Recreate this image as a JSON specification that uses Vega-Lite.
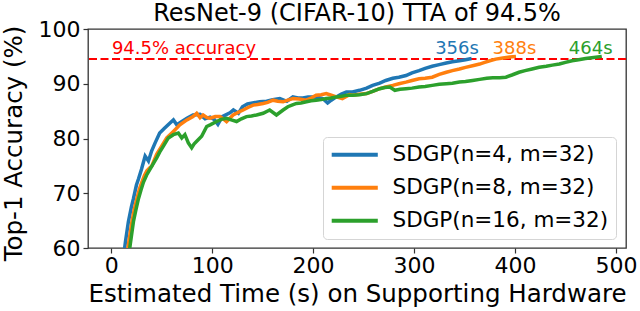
{
  "$schema": "https://vega.github.io/schema/vega-lite/v6.json",
  "width": 538,
  "height": 219,
  "autosize": {"type": "none"},
  "padding": {"left": 88, "top": 29, "right": 14, "bottom": 63},
  "background": "white",
  "config": {
    "font": "DejaVu Sans",
    "view": {"stroke": "#333", "strokeWidth": 1.3},
    "axis": {"grid": false, "domain": false, "tickColor": "#333", "tickSize": 5, "tickWidth": 1.2, "labelFontSize": 22, "labelColor": "black", "titleFontSize": 24.5, "titleFontWeight": "normal", "titleColor": "black", "labelFont": "DejaVu Sans", "titleFont": "DejaVu Sans"}
  },
  "title": {"text": "ResNet-9 (CIFAR-10) TTA of 94.5%", "fontSize": 24, "fontWeight": "normal", "font": "DejaVu Sans", "color": "black", "offset": 8, "dy": 16, "anchor": "middle", "frame": "group"},
  "datasets": {
    "curves": [
      {"series": "SDGP(n=4, m=32)", "t": 12, "acc": 58}, {"series": "SDGP(n=4, m=32)", "t": 14, "acc": 61}, {"series": "SDGP(n=4, m=32)", "t": 17, "acc": 64.8}, {"series": "SDGP(n=4, m=32)", "t": 20, "acc": 67.5}, {"series": "SDGP(n=4, m=32)", "t": 22, "acc": 69}, {"series": "SDGP(n=4, m=32)", "t": 25, "acc": 71.5}, {"series": "SDGP(n=4, m=32)", "t": 27, "acc": 72.6}, {"series": "SDGP(n=4, m=32)", "t": 30, "acc": 74.4}, {"series": "SDGP(n=4, m=32)", "t": 33.6, "acc": 76.8}, {"series": "SDGP(n=4, m=32)", "t": 36.9, "acc": 75.9}, {"series": "SDGP(n=4, m=32)", "t": 40, "acc": 77.7}, {"series": "SDGP(n=4, m=32)", "t": 43.5, "acc": 79.2}, {"series": "SDGP(n=4, m=32)", "t": 48, "acc": 81.0}, {"series": "SDGP(n=4, m=32)", "t": 53, "acc": 81.9}, {"series": "SDGP(n=4, m=32)", "t": 58, "acc": 82.8}, {"series": "SDGP(n=4, m=32)", "t": 61.6, "acc": 83.4}, {"series": "SDGP(n=4, m=32)", "t": 65, "acc": 82.5}, {"series": "SDGP(n=4, m=32)", "t": 70, "acc": 83.1}, {"series": "SDGP(n=4, m=32)", "t": 75, "acc": 83.7}, {"series": "SDGP(n=4, m=32)", "t": 81, "acc": 84.3}, {"series": "SDGP(n=4, m=32)", "t": 88, "acc": 84.4}, {"series": "SDGP(n=4, m=32)", "t": 93, "acc": 83.6}, {"series": "SDGP(n=4, m=32)", "t": 98, "acc": 83.9}, {"series": "SDGP(n=4, m=32)", "t": 102, "acc": 83.5}, {"series": "SDGP(n=4, m=32)", "t": 105.7, "acc": 82.6}, {"series": "SDGP(n=4, m=32)", "t": 110, "acc": 84.0}, {"series": "SDGP(n=4, m=32)", "t": 117.6, "acc": 84.7}, {"series": "SDGP(n=4, m=32)", "t": 121, "acc": 85.2}, {"series": "SDGP(n=4, m=32)", "t": 126, "acc": 84.6}, {"series": "SDGP(n=4, m=32)", "t": 130, "acc": 85.8}, {"series": "SDGP(n=4, m=32)", "t": 135, "acc": 86.3}, {"series": "SDGP(n=4, m=32)", "t": 140, "acc": 86.5}, {"series": "SDGP(n=4, m=32)", "t": 147, "acc": 86.7}, {"series": "SDGP(n=4, m=32)", "t": 154, "acc": 86.8}, {"series": "SDGP(n=4, m=32)", "t": 160, "acc": 87.1}, {"series": "SDGP(n=4, m=32)", "t": 167, "acc": 87.3}, {"series": "SDGP(n=4, m=32)", "t": 174, "acc": 86.8}, {"series": "SDGP(n=4, m=32)", "t": 180, "acc": 87.6}, {"series": "SDGP(n=4, m=32)", "t": 185, "acc": 87.4}, {"series": "SDGP(n=4, m=32)", "t": 190, "acc": 87.4}, {"series": "SDGP(n=4, m=32)", "t": 195, "acc": 87.6}, {"series": "SDGP(n=4, m=32)", "t": 200, "acc": 87.6}, {"series": "SDGP(n=4, m=32)", "t": 205, "acc": 87.5}, {"series": "SDGP(n=4, m=32)", "t": 209.5, "acc": 87.3}, {"series": "SDGP(n=4, m=32)", "t": 214.4, "acc": 86.5}, {"series": "SDGP(n=4, m=32)", "t": 218, "acc": 87.0}, {"series": "SDGP(n=4, m=32)", "t": 223, "acc": 87.6}, {"series": "SDGP(n=4, m=32)", "t": 228, "acc": 88.1}, {"series": "SDGP(n=4, m=32)", "t": 233, "acc": 88.5}, {"series": "SDGP(n=4, m=32)", "t": 239, "acc": 88.5}, {"series": "SDGP(n=4, m=32)", "t": 246, "acc": 88.8}, {"series": "SDGP(n=4, m=32)", "t": 253, "acc": 89.2}, {"series": "SDGP(n=4, m=32)", "t": 259, "acc": 89.7}, {"series": "SDGP(n=4, m=32)", "t": 266, "acc": 90.1}, {"series": "SDGP(n=4, m=32)", "t": 272, "acc": 90.6}, {"series": "SDGP(n=4, m=32)", "t": 279, "acc": 91.0}, {"series": "SDGP(n=4, m=32)", "t": 285, "acc": 91.2}, {"series": "SDGP(n=4, m=32)", "t": 292, "acc": 91.5}, {"series": "SDGP(n=4, m=32)", "t": 298, "acc": 92.0}, {"series": "SDGP(n=4, m=32)", "t": 305, "acc": 92.4}, {"series": "SDGP(n=4, m=32)", "t": 311, "acc": 92.8}, {"series": "SDGP(n=4, m=32)", "t": 318, "acc": 93.2}, {"series": "SDGP(n=4, m=32)", "t": 325, "acc": 93.5}, {"series": "SDGP(n=4, m=32)", "t": 332, "acc": 93.8}, {"series": "SDGP(n=4, m=32)", "t": 338, "acc": 94.0}, {"series": "SDGP(n=4, m=32)", "t": 345, "acc": 94.2}, {"series": "SDGP(n=4, m=32)", "t": 351, "acc": 94.4}, {"series": "SDGP(n=4, m=32)", "t": 357, "acc": 94.6},

      {"series": "SDGP(n=8, m=32)", "t": 15, "acc": 58}, {"series": "SDGP(n=8, m=32)", "t": 17, "acc": 60.6}, {"series": "SDGP(n=8, m=32)", "t": 20.5, "acc": 64.8}, {"series": "SDGP(n=8, m=32)", "t": 23, "acc": 67.2}, {"series": "SDGP(n=8, m=32)", "t": 25.4, "acc": 69}, {"series": "SDGP(n=8, m=32)", "t": 28, "acc": 70.8}, {"series": "SDGP(n=8, m=32)", "t": 30.3, "acc": 72}, {"series": "SDGP(n=8, m=32)", "t": 33, "acc": 73.3}, {"series": "SDGP(n=8, m=32)", "t": 35.3, "acc": 74.1}, {"series": "SDGP(n=8, m=32)", "t": 38, "acc": 74.6}, {"series": "SDGP(n=8, m=32)", "t": 40.2, "acc": 75}, {"series": "SDGP(n=8, m=32)", "t": 45, "acc": 77.1}, {"series": "SDGP(n=8, m=32)", "t": 50, "acc": 78.6}, {"series": "SDGP(n=8, m=32)", "t": 55, "acc": 80.1}, {"series": "SDGP(n=8, m=32)", "t": 61.6, "acc": 81.3}, {"series": "SDGP(n=8, m=32)", "t": 68, "acc": 82.5}, {"series": "SDGP(n=8, m=32)", "t": 75, "acc": 83.4}, {"series": "SDGP(n=8, m=32)", "t": 81, "acc": 84}, {"series": "SDGP(n=8, m=32)", "t": 84.7, "acc": 84.6}, {"series": "SDGP(n=8, m=32)", "t": 88, "acc": 83.8}, {"series": "SDGP(n=8, m=32)", "t": 91, "acc": 84.3}, {"series": "SDGP(n=8, m=32)", "t": 95, "acc": 83.8}, {"series": "SDGP(n=8, m=32)", "t": 98, "acc": 83.7}, {"series": "SDGP(n=8, m=32)", "t": 103, "acc": 84.0}, {"series": "SDGP(n=8, m=32)", "t": 107.7, "acc": 84.0}, {"series": "SDGP(n=8, m=32)", "t": 111, "acc": 83.6}, {"series": "SDGP(n=8, m=32)", "t": 114.3, "acc": 83.1}, {"series": "SDGP(n=8, m=32)", "t": 118, "acc": 83.8}, {"series": "SDGP(n=8, m=32)", "t": 120.8, "acc": 84.3}, {"series": "SDGP(n=8, m=32)", "t": 126, "acc": 84.8}, {"series": "SDGP(n=8, m=32)", "t": 130.7, "acc": 85.2}, {"series": "SDGP(n=8, m=32)", "t": 136, "acc": 85.7}, {"series": "SDGP(n=8, m=32)", "t": 140.6, "acc": 86.1}, {"series": "SDGP(n=8, m=32)", "t": 145, "acc": 86.2}, {"series": "SDGP(n=8, m=32)", "t": 150.5, "acc": 86.4}, {"series": "SDGP(n=8, m=32)", "t": 155, "acc": 86.6}, {"series": "SDGP(n=8, m=32)", "t": 160.4, "acc": 87.0}, {"series": "SDGP(n=8, m=32)", "t": 165, "acc": 86.8}, {"series": "SDGP(n=8, m=32)", "t": 170.3, "acc": 86.7}, {"series": "SDGP(n=8, m=32)", "t": 175, "acc": 87.0}, {"series": "SDGP(n=8, m=32)", "t": 180, "acc": 87.3}, {"series": "SDGP(n=8, m=32)", "t": 186, "acc": 87.2}, {"series": "SDGP(n=8, m=32)", "t": 193, "acc": 87.0}, {"series": "SDGP(n=8, m=32)", "t": 198, "acc": 87.4}, {"series": "SDGP(n=8, m=32)", "t": 203, "acc": 87.9}, {"series": "SDGP(n=8, m=32)", "t": 208, "acc": 88.0}, {"series": "SDGP(n=8, m=32)", "t": 213, "acc": 88.2}, {"series": "SDGP(n=8, m=32)", "t": 218, "acc": 87.9}, {"series": "SDGP(n=8, m=32)", "t": 223, "acc": 87.6}, {"series": "SDGP(n=8, m=32)", "t": 229, "acc": 87.3}, {"series": "SDGP(n=8, m=32)", "t": 236, "acc": 88.0}, {"series": "SDGP(n=8, m=32)", "t": 239, "acc": 87.9}, {"series": "SDGP(n=8, m=32)", "t": 246, "acc": 88.1}, {"series": "SDGP(n=8, m=32)", "t": 253, "acc": 88.2}, {"series": "SDGP(n=8, m=32)", "t": 259, "acc": 88.6}, {"series": "SDGP(n=8, m=32)", "t": 266, "acc": 89.1}, {"series": "SDGP(n=8, m=32)", "t": 272, "acc": 89.4}, {"series": "SDGP(n=8, m=32)", "t": 279, "acc": 89.7}, {"series": "SDGP(n=8, m=32)", "t": 285, "acc": 90.0}, {"series": "SDGP(n=8, m=32)", "t": 292, "acc": 90.3}, {"series": "SDGP(n=8, m=32)", "t": 298, "acc": 90.6}, {"series": "SDGP(n=8, m=32)", "t": 305, "acc": 90.9}, {"series": "SDGP(n=8, m=32)", "t": 311, "acc": 91.0}, {"series": "SDGP(n=8, m=32)", "t": 318, "acc": 91.2}, {"series": "SDGP(n=8, m=32)", "t": 325, "acc": 91.7}, {"series": "SDGP(n=8, m=32)", "t": 332, "acc": 92.1}, {"series": "SDGP(n=8, m=32)", "t": 338, "acc": 92.4}, {"series": "SDGP(n=8, m=32)", "t": 345, "acc": 92.7}, {"series": "SDGP(n=8, m=32)", "t": 351, "acc": 93.0}, {"series": "SDGP(n=8, m=32)", "t": 358, "acc": 93.3}, {"series": "SDGP(n=8, m=32)", "t": 365, "acc": 93.6}, {"series": "SDGP(n=8, m=32)", "t": 370, "acc": 93.9}, {"series": "SDGP(n=8, m=32)", "t": 375, "acc": 94.2}, {"series": "SDGP(n=8, m=32)", "t": 381, "acc": 94.5}, {"series": "SDGP(n=8, m=32)", "t": 388, "acc": 94.7}, {"series": "SDGP(n=8, m=32)", "t": 395, "acc": 94.9}, {"series": "SDGP(n=8, m=32)", "t": 401, "acc": 95.0},

      {"series": "SDGP(n=16, m=32)", "t": 17, "acc": 58}, {"series": "SDGP(n=16, m=32)", "t": 18.8, "acc": 60.6}, {"series": "SDGP(n=16, m=32)", "t": 22, "acc": 64.8}, {"series": "SDGP(n=16, m=32)", "t": 24.5, "acc": 67}, {"series": "SDGP(n=16, m=32)", "t": 27, "acc": 69}, {"series": "SDGP(n=16, m=32)", "t": 29.5, "acc": 70.6}, {"series": "SDGP(n=16, m=32)", "t": 31.9, "acc": 72}, {"series": "SDGP(n=16, m=32)", "t": 35, "acc": 73.3}, {"series": "SDGP(n=16, m=32)", "t": 38.5, "acc": 74.4}, {"series": "SDGP(n=16, m=32)", "t": 42, "acc": 75.5}, {"series": "SDGP(n=16, m=32)", "t": 45.2, "acc": 76.5}, {"series": "SDGP(n=16, m=32)", "t": 48, "acc": 77.5}, {"series": "SDGP(n=16, m=32)", "t": 51.7, "acc": 78.6}, {"series": "SDGP(n=16, m=32)", "t": 56.6, "acc": 80.1}, {"series": "SDGP(n=16, m=32)", "t": 61.6, "acc": 80.7}, {"series": "SDGP(n=16, m=32)", "t": 66.5, "acc": 81.0}, {"series": "SDGP(n=16, m=32)", "t": 69.9, "acc": 80.1}, {"series": "SDGP(n=16, m=32)", "t": 73, "acc": 80.7}, {"series": "SDGP(n=16, m=32)", "t": 76.4, "acc": 79.2}, {"series": "SDGP(n=16, m=32)", "t": 79.7, "acc": 78.3}, {"series": "SDGP(n=16, m=32)", "t": 82, "acc": 79.0}, {"series": "SDGP(n=16, m=32)", "t": 84.7, "acc": 79.5}, {"series": "SDGP(n=16, m=32)", "t": 89.6, "acc": 80.4}, {"series": "SDGP(n=16, m=32)", "t": 94.6, "acc": 82.2}, {"series": "SDGP(n=16, m=32)", "t": 98, "acc": 82.5}, {"series": "SDGP(n=16, m=32)", "t": 104.4, "acc": 83.1}, {"series": "SDGP(n=16, m=32)", "t": 109, "acc": 83.5}, {"series": "SDGP(n=16, m=32)", "t": 114.3, "acc": 83.7}, {"series": "SDGP(n=16, m=32)", "t": 119, "acc": 83.4}, {"series": "SDGP(n=16, m=32)", "t": 124.2, "acc": 83.1}, {"series": "SDGP(n=16, m=32)", "t": 129, "acc": 83.6}, {"series": "SDGP(n=16, m=32)", "t": 134, "acc": 84.0}, {"series": "SDGP(n=16, m=32)", "t": 139, "acc": 84.1}, {"series": "SDGP(n=16, m=32)", "t": 144, "acc": 84.3}, {"series": "SDGP(n=16, m=32)", "t": 150.5, "acc": 84.6}, {"series": "SDGP(n=16, m=32)", "t": 157, "acc": 85.2}, {"series": "SDGP(n=16, m=32)", "t": 163.7, "acc": 84.3}, {"series": "SDGP(n=16, m=32)", "t": 170.3, "acc": 85.2}, {"series": "SDGP(n=16, m=32)", "t": 175, "acc": 85.8}, {"series": "SDGP(n=16, m=32)", "t": 179, "acc": 86.1}, {"series": "SDGP(n=16, m=32)", "t": 183.5, "acc": 86.4}, {"series": "SDGP(n=16, m=32)", "t": 188, "acc": 86.5}, {"series": "SDGP(n=16, m=32)", "t": 193.4, "acc": 86.7}, {"series": "SDGP(n=16, m=32)", "t": 198, "acc": 86.9}, {"series": "SDGP(n=16, m=32)", "t": 203, "acc": 87.0}, {"series": "SDGP(n=16, m=32)", "t": 208, "acc": 87.1}, {"series": "SDGP(n=16, m=32)", "t": 213, "acc": 87.3}, {"series": "SDGP(n=16, m=32)", "t": 218, "acc": 87.4}, {"series": "SDGP(n=16, m=32)", "t": 223, "acc": 87.6}, {"series": "SDGP(n=16, m=32)", "t": 228, "acc": 87.7}, {"series": "SDGP(n=16, m=32)", "t": 233, "acc": 87.9}, {"series": "SDGP(n=16, m=32)", "t": 239, "acc": 87.9}, {"series": "SDGP(n=16, m=32)", "t": 246, "acc": 88.0}, {"series": "SDGP(n=16, m=32)", "t": 253, "acc": 88.2}, {"series": "SDGP(n=16, m=32)", "t": 259, "acc": 88.6}, {"series": "SDGP(n=16, m=32)", "t": 266, "acc": 89.1}, {"series": "SDGP(n=16, m=32)", "t": 271, "acc": 89.3}, {"series": "SDGP(n=16, m=32)", "t": 276, "acc": 89.4}, {"series": "SDGP(n=16, m=32)", "t": 281, "acc": 88.8}, {"series": "SDGP(n=16, m=32)", "t": 286, "acc": 89.0}, {"series": "SDGP(n=16, m=32)", "t": 292, "acc": 89.1}, {"series": "SDGP(n=16, m=32)", "t": 298, "acc": 89.2}, {"series": "SDGP(n=16, m=32)", "t": 305, "acc": 89.4}, {"series": "SDGP(n=16, m=32)", "t": 311, "acc": 89.5}, {"series": "SDGP(n=16, m=32)", "t": 318, "acc": 89.7}, {"series": "SDGP(n=16, m=32)", "t": 325, "acc": 89.9}, {"series": "SDGP(n=16, m=32)", "t": 332, "acc": 90.0}, {"series": "SDGP(n=16, m=32)", "t": 338, "acc": 90.1}, {"series": "SDGP(n=16, m=32)", "t": 345, "acc": 90.3}, {"series": "SDGP(n=16, m=32)", "t": 351, "acc": 90.4}, {"series": "SDGP(n=16, m=32)", "t": 358, "acc": 90.6}, {"series": "SDGP(n=16, m=32)", "t": 365, "acc": 90.8}, {"series": "SDGP(n=16, m=32)", "t": 372, "acc": 91.0}, {"series": "SDGP(n=16, m=32)", "t": 378, "acc": 91.1}, {"series": "SDGP(n=16, m=32)", "t": 385, "acc": 91.1}, {"series": "SDGP(n=16, m=32)", "t": 391, "acc": 91.2}, {"series": "SDGP(n=16, m=32)", "t": 397, "acc": 91.6}, {"series": "SDGP(n=16, m=32)", "t": 404, "acc": 92.1}, {"series": "SDGP(n=16, m=32)", "t": 410, "acc": 92.4}, {"series": "SDGP(n=16, m=32)", "t": 417, "acc": 92.7}, {"series": "SDGP(n=16, m=32)", "t": 424, "acc": 93.0}, {"series": "SDGP(n=16, m=32)", "t": 431, "acc": 93.2}, {"series": "SDGP(n=16, m=32)", "t": 437, "acc": 93.4}, {"series": "SDGP(n=16, m=32)", "t": 444, "acc": 93.6}, {"series": "SDGP(n=16, m=32)", "t": 450, "acc": 93.9}, {"series": "SDGP(n=16, m=32)", "t": 456.5, "acc": 94.2}, {"series": "SDGP(n=16, m=32)", "t": 463, "acc": 94.4}, {"series": "SDGP(n=16, m=32)", "t": 470, "acc": 94.6}, {"series": "SDGP(n=16, m=32)", "t": 478, "acc": 94.8}, {"series": "SDGP(n=16, m=32)", "t": 486, "acc": 95.0}
    ],
    "target": [{"acc": 94.5}],
    "notes": [
      {"key": "target", "label": "94.5% accuracy", "t": 0.7, "acc": 95.5},
      {"key": "n4", "label": "356s", "t": 342.6, "acc": 95.5},
      {"key": "n8", "label": "388s", "t": 399.5, "acc": 95.5},
      {"key": "n16", "label": "464s", "t": 475, "acc": 95.5}
    ]
  },
  "layer": [
    {
      "data": {"name": "target"},
      "mark": {"type": "rule", "color": "red", "strokeWidth": 2, "strokeDash": [8, 3.5]},
      "encoding": {"y": {"field": "acc", "type": "quantitative"}}
    },
    {
      "data": {"name": "curves"},
      "mark": {"type": "line", "strokeWidth": 3.5, "clip": true},
      "encoding": {
        "x": {"field": "t", "type": "quantitative", "scale": {"domain": [-23, 510], "nice": false, "zero": false},
              "axis": {"values": [0, 100, 200, 300, 400, 500], "title": "Estimated Time (s) on Supporting Hardware", "labelPadding": 2, "titlePadding": 6}},
        "y": {"field": "acc", "type": "quantitative", "scale": {"domain": [60, 100], "nice": false, "zero": false},
              "axis": {"values": [60, 70, 80, 90, 100], "title": "Top-1 Accuracy (%)", "labelPadding": 3, "titlePadding": 12, "titleY": 114}},
        "color": {"field": "series", "type": "nominal",
                  "scale": {"domain": ["SDGP(n=4, m=32)", "SDGP(n=8, m=32)", "SDGP(n=16, m=32)"], "range": ["#1f77b4", "#ff7f0e", "#2ca02c"]},
                  "legend": {"title": null, "orient": "none", "legendX": 235, "legendY": 108, "symbolType": "M-3,0H3", "symbolSize": 236, "symbolStrokeWidth": 4, "symbolOffset": 14, "labelFontSize": 21.5, "labelFont": "DejaVu Sans", "labelColor": "black", "labelLimit": 400, "rowPadding": 10, "padding": 7, "fillColor": "white", "strokeColor": "#d5d5d5", "cornerRadius": 4, "labelOffset": 27}}
      }
    },
    {
      "data": {"name": "notes"},
      "transform": [{"filter": "datum.key == 'target'"}],
      "mark": {"type": "text", "color": "red", "fontSize": 18, "align": "left", "baseline": "alphabetic"},
      "encoding": {"x": {"field": "t", "type": "quantitative"}, "y": {"field": "acc", "type": "quantitative"}, "text": {"field": "label"}}
    },
    {
      "data": {"name": "notes"},
      "transform": [{"filter": "datum.key == 'n4'"}],
      "mark": {"type": "text", "color": "#1f77b4", "fontSize": 18, "align": "center", "baseline": "alphabetic"},
      "encoding": {"x": {"field": "t", "type": "quantitative"}, "y": {"field": "acc", "type": "quantitative"}, "text": {"field": "label"}}
    },
    {
      "data": {"name": "notes"},
      "transform": [{"filter": "datum.key == 'n8'"}],
      "mark": {"type": "text", "color": "#ff7f0e", "fontSize": 18, "align": "center", "baseline": "alphabetic"},
      "encoding": {"x": {"field": "t", "type": "quantitative"}, "y": {"field": "acc", "type": "quantitative"}, "text": {"field": "label"}}
    },
    {
      "data": {"name": "notes"},
      "transform": [{"filter": "datum.key == 'n16'"}],
      "mark": {"type": "text", "color": "#2ca02c", "fontSize": 18, "align": "center", "baseline": "alphabetic"},
      "encoding": {"x": {"field": "t", "type": "quantitative"}, "y": {"field": "acc", "type": "quantitative"}, "text": {"field": "label"}}
    }
  ]
}
